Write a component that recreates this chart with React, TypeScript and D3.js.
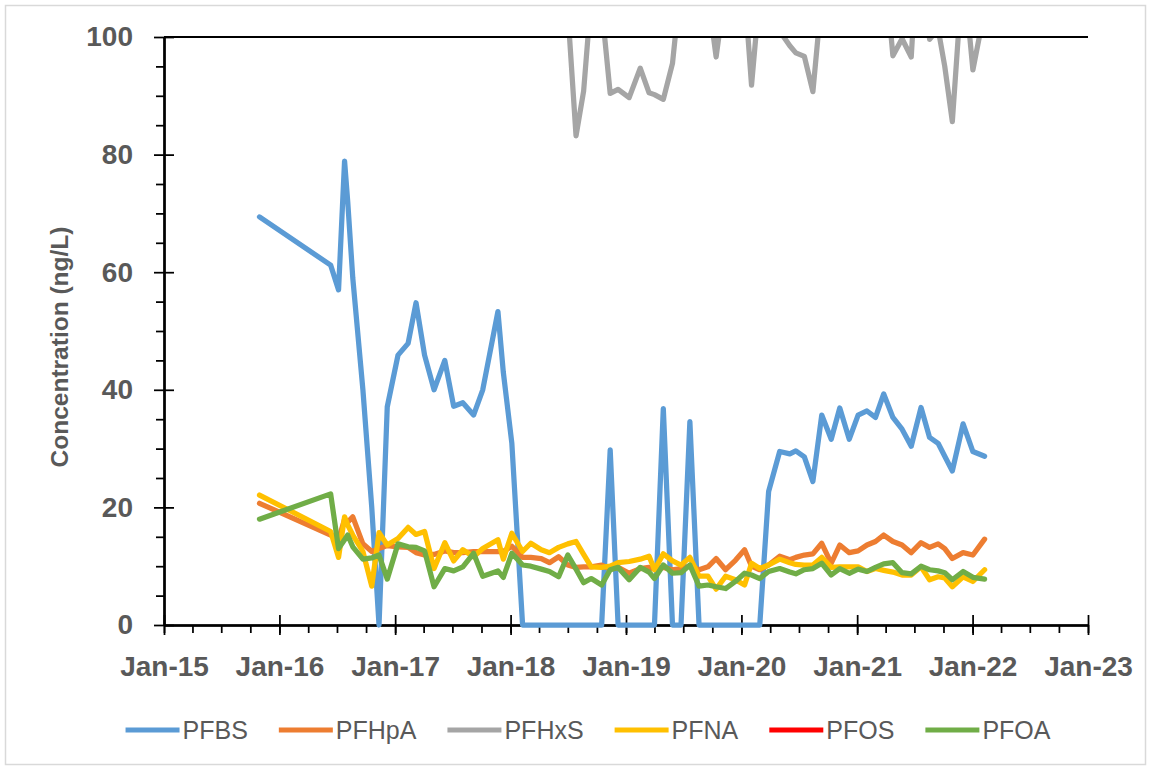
import React, { useEffect, useRef } from 'react';
import * as d3 from 'd3';

// sampling dates
const sampleDates = [
  '2015-10-30', '2016-06-11', '2016-07-06', '2016-07-25', '2016-08-04', '2016-08-20', '2016-09-21', '2016-10-19', '2016-11-11', '2016-12-07',
  '2017-01-10', '2017-02-11', '2017-03-08', '2017-04-04', '2017-05-04', '2017-06-07', '2017-07-05', '2017-08-03', '2017-09-06', '2017-10-05',
  '2017-11-22', '2017-12-09', '2018-01-05', '2018-02-08', '2018-03-06', '2018-04-08', '2018-05-04', '2018-06-02', '2018-07-01', '2018-07-27',
  '2018-08-20', '2018-09-13', '2018-10-16', '2018-11-12', '2018-12-07', '2019-01-11', '2019-02-15', '2019-03-15', '2019-04-01', '2019-04-29',
  '2019-05-28', '2019-06-24', '2019-07-22', '2019-08-20', '2019-09-17', '2019-10-13', '2019-11-12', '2019-12-13', '2020-01-11', '2020-02-02',
  '2020-02-28', '2020-03-27', '2020-05-01', '2020-06-02', '2020-06-21', '2020-07-18', '2020-08-14', '2020-09-11', '2020-10-11', '2020-11-07',
  '2020-12-07', '2021-01-04', '2021-02-01', '2021-02-28', '2021-03-26', '2021-04-24', '2021-05-23', '2021-06-21', '2021-07-22', '2021-08-18',
  '2021-09-14', '2021-10-05', '2021-10-29', '2021-12-02', '2022-01-02', '2022-02-08',
];

// concentrations, ng/L
const pfbs = [
  69.4, 61.2, 57.0, 78.9, 72.0, 59.0, 40.0, 20.0, 0, 37.1,
  45.9, 47.9, 54.8, 45.9, 40.0, 45.0, 37.2, 37.8, 35.7, 40.0,
  53.3, 43.0, 30.9, 0, 0, 0, 0, 0, 0, 0,
  0, 0, 0, 29.8, 0, 0, 0, 0, 0, 36.8,
  0, 0, 34.6, 0, 0, 0, 0, 0, 0, 0,
  0, 22.7, 29.5, 29.1, 29.6, 28.6, 24.4, 35.7, 31.6, 36.9,
  31.6, 35.7, 36.4, 35.3, 39.3, 35.3, 33.3, 30.4, 37.0, 31.9,
  30.9, 28.7, 26.2, 34.2, 29.5, 28.7,
];
const pfhpa = [
  20.7, 15.3, 14.5, 18.0, 17.5, 18.4, 13.8, 12.5, 13.0, 13.5,
  13.3, 13.2, 12.3, 11.9, 12.0, 12.6, 12.3, 12.3, 12.5, 12.5,
  12.5, 12.5, 13.4, 11.5, 11.5, 11.3, 10.6, 11.6, 10.2, 9.8,
  9.9, 9.9, 10.2, 9.5, 9.8, 8.8, 9.6, 9.8, 9.5, 9.8,
  9.4, 9.6, 10.0, 9.4, 9.9, 11.3, 9.4, 11.0, 12.8, 10.0,
  9.4, 10.2, 11.7, 11.1, 11.5, 11.9, 12.1, 13.9, 10.5, 13.6,
  12.3, 12.6, 13.6, 14.2, 15.3, 14.2, 13.6, 12.3, 14.0, 13.2,
  13.8, 13.0, 11.3, 12.3, 11.9, 14.6,
];
// PFHxS runs mostly above the 100 ng/L axis maximum and is clipped there
const pfhxs = [
  120, 118, 116, 120, 118, 115, 117, 120, 114, 116,
  118, 115, 117, 120, 116, 114, 118, 115, 117, 113,
  116, 114, 118, 115, 112, 114, 110, 108, 104.4, 83.2,
  90.8, 106.9, 105.2, 90.4, 91.1, 89.7, 94.7, 90.5, 90.2, 89.4,
  95.5, 109.6, 110, 110, 107.2, 96.6, 108.7, 110, 107.9, 91.8,
  107.6, 108, 101, 98.5, 97.3, 96.7, 90.7, 106.9, 110, 112,
  110, 112, 110, 112, 114, 96.8, 99.7, 96.6, 125, 99.6,
  101.4, 95, 85.6, 112, 94.4, 104.6,
];
const pfna = [
  22.1, 15.9, 11.5, 18.4, 17.0, 15.3, 12.5, 6.6, 15.7, 13.6,
  14.7, 16.6, 15.4, 15.9, 9.6, 14.0, 10.9, 12.8, 11.6, 13.0,
  14.5, 11.2, 15.6, 12.5, 13.9, 12.8, 12.3, 13.2, 13.8, 14.2,
  12.0, 9.9, 9.8, 10.0, 10.6, 10.8, 11.2, 11.7, 9.4, 12.1,
  10.9, 10.2, 11.5, 8.3, 8.3, 6.1, 8.3, 7.7, 6.8, 10.5,
  9.6, 10.2, 11.2, 10.6, 10.3, 10.2, 10.2, 11.5, 9.8, 9.9,
  9.9, 9.9, 9.1, 9.6, 9.3, 9.0, 8.5, 8.5, 9.9, 7.7,
  8.2, 8.0, 6.5, 8.2, 7.4, 9.4,
];
// PFOS: no line visible inside the 0-100 range
const pfos: (number | null)[] = [];
const pfoa = [
  18.0, 22.3, 13.0, 14.5, 15.3, 13.3, 11.2, 11.4, 11.9, 7.8,
  13.8, 13.3, 13.2, 12.6, 6.5, 9.6, 9.2, 9.9, 12.2, 8.3,
  9.2, 8.1, 12.2, 10.2, 10.0, 9.5, 9.1, 8.2, 11.9, 9.5,
  7.2, 7.9, 6.8, 9.4, 9.8, 7.7, 9.8, 9.0, 7.9, 10.2,
  8.8, 8.9, 10.2, 6.6, 6.8, 6.5, 6.2, 7.4, 8.8, 8.5,
  7.9, 9.1, 9.6, 9.0, 8.7, 9.4, 9.6, 10.5, 8.5, 9.6,
  8.8, 9.5, 9.1, 9.8, 10.4, 10.6, 8.9, 8.7, 10.0, 9.4,
  9.2, 8.9, 7.7, 9.1, 8.1, 7.8,
];

const seriesNames = ['PFBS', 'PFHpA', 'PFHxS', 'PFNA', 'PFOS', 'PFOA'];
const seriesValues = [pfbs, pfhpa, pfhxs, pfna, pfos, pfoa];
const seriesColors = ['#5B9BD5', '#ED7D31', '#A5A5A5', '#FFC000', '#FF0000', '#70AD47'];
const yTicks = [0, 20, 40, 60, 80, 100];

const W = 1151;
const H = 770;
const FONT = "'Liberation Sans', Arial, sans-serif";
const TEXT = '#595959';

export default function App() {
  const svgRef = useRef<SVGSVGElement>(null);

  useEffect(() => {
    if (!svgRef.current) return;
    const svg = d3.select(svgRef.current);
    svg.selectAll('*').remove();

    const margin = { top: 37, right: 63, bottom: 145, left: 164 };
    const x0 = margin.left;
    const x1 = W - margin.right;
    const yTop = margin.top;
    const yBot = H - margin.bottom;

    const parse = d3.timeParse('%Y-%m-%d');
    const dates = sampleDates.map(d => parse(d) as Date);

    const x = d3
      .scaleTime()
      .domain([new Date(2015, 0, 1), new Date(2023, 0, 1)])
      .range([x0, x1]);
    const y = d3.scaleLinear().domain([0, 100]).range([yBot, yTop]);

    // chart area
    svg
      .append('rect')
      .attr('x', 5.5)
      .attr('y', 5.5)
      .attr('width', W - 11)
      .attr('height', H - 11)
      .attr('fill', '#fff')
      .attr('stroke', '#d9d9d9')
      .attr('stroke-width', 1.5);

    const styleAxis = (g: d3.Selection<SVGGElement, unknown, null, undefined>) => {
      g.select('.domain').attr('stroke', '#000').attr('stroke-width', 2);
      g.selectAll('.tick line').attr('stroke', '#000').attr('stroke-width', 1.75);
      g.selectAll('.tick text')
        .attr('fill', TEXT)
        .style('font-family', FONT)
        .style('font-weight', 'bold')
        .style('font-size', '28px');
    };

    // y axis: minor, inner half of majors, outer majors with labels
    const yMinor = svg
      .append('g')
      .attr('transform', `translate(${x0},0)`)
      .call(
        d3
          .axisLeft(y)
          .tickValues(d3.range(0, 101, 5).filter(v => v % 20 !== 0))
          .tickSize(8)
          .tickSizeOuter(0)
          .tickFormat(() => '')
      );
    styleAxis(yMinor);
    const yInner = svg
      .append('g')
      .attr('transform', `translate(${x0},0)`)
      .call(d3.axisLeft(y).tickValues(yTicks).tickSize(-10).tickSizeOuter(0).tickFormat(() => ''));
    styleAxis(yInner);
    const yAxis = svg
      .append('g')
      .attr('transform', `translate(${x0},0)`)
      .call(d3.axisLeft(y).tickValues(yTicks).tickSize(10).tickSizeOuter(0).tickPadding(21));
    styleAxis(yAxis);

    // x axis
    const xMinor = svg
      .append('g')
      .attr('transform', `translate(0,${yBot})`)
      .call(
        d3
          .axisBottom(x)
          .ticks(d3.timeMonth.every(3))
          .tickSize(8)
          .tickSizeOuter(0)
          .tickFormat(() => '')
      );
    styleAxis(xMinor);
    const xInner = svg
      .append('g')
      .attr('transform', `translate(0,${yBot})`)
      .call(d3.axisBottom(x).ticks(d3.timeYear.every(1)).tickSize(-10).tickSizeOuter(0).tickFormat(() => ''));
    styleAxis(xInner);
    const xAxis = svg
      .append('g')
      .attr('transform', `translate(0,${yBot})`)
      .call(
        d3
          .axisBottom(x)
          .ticks(d3.timeYear.every(1))
          .tickSize(10)
          .tickSizeOuter(0)
          .tickPadding(21)
          .tickFormat(d => d3.timeFormat('%b-%y')(d as Date))
      );
    styleAxis(xAxis);

    // y title
    svg
      .append('text')
      .attr('transform', `translate(68,347) rotate(-90)`)
      .attr('text-anchor', 'middle')
      .attr('fill', TEXT)
      .style('font-family', FONT)
      .style('font-weight', 'bold')
      .style('font-size', '24.5px')
      .text('Concentration (ng/L)');

    // series
    svg
      .append('clipPath')
      .attr('id', 'plot-clip')
      .append('rect')
      .attr('x', x0)
      .attr('y', yTop)
      .attr('width', x1 - x0)
      .attr('height', yBot - yTop + 4);

    const line = d3
      .line<[Date, number]>()
      .x(d => x(d[0]))
      .y(d => y(d[1]));

    const plot = svg.append('g').attr('clip-path', 'url(#plot-clip)');
    seriesValues.forEach((vals, i) => {
      const pts = vals
        .map((v, j) => [dates[j], v] as [Date, number | null])
        .filter(p => p[1] != null) as [Date, number][];
      if (pts.length === 0) return;
      plot
        .append('path')
        .datum(pts)
        .attr('fill', 'none')
        .attr('stroke', seriesColors[i])
        .attr('stroke-width', 5.25)
        .attr('stroke-linejoin', 'round')
        .attr('stroke-linecap', 'round')
        .attr('d', line);
    });

    // top border of plot area
    svg
      .append('line')
      .attr('x1', x0)
      .attr('x2', x1)
      .attr('y1', yTop)
      .attr('y2', yTop)
      .attr('stroke', '#000')
      .attr('stroke-width', 2);

    // legend
    const legendY = 730;
    const legend = svg.append('g');
    const items = legend
      .selectAll('g')
      .data(seriesNames)
      .join('g');
    items
      .append('line')
      .attr('x1', 0)
      .attr('x2', 54)
      .attr('y1', legendY)
      .attr('y2', legendY)
      .attr('stroke', (d, i) => seriesColors[i])
      .attr('stroke-width', 5);
    items
      .append('text')
      .attr('x', 57)
      .attr('y', legendY + 9)
      .attr('fill', TEXT)
      .style('font-family', FONT)
      .style('font-size', '25px')
      .text(d => d);

    let cx = 0;
    const offsets: number[] = [];
    items.each(function () {
      const t = d3.select(this).select('text').node() as SVGTextElement;
      offsets.push(cx);
      cx += 57 + t.getComputedTextLength() + 31;
    });
    const total = cx - 31;
    const start = 588 - total / 2;
    items.attr('transform', (d, i) => `translate(${start + offsets[i]},0)`);
  }, []);

  return (
    <>
      <style>{'body{margin:0}'}</style>
      <svg ref={svgRef} width={W} height={H} style={{ display: 'block' }} />
    </>
  );
}
